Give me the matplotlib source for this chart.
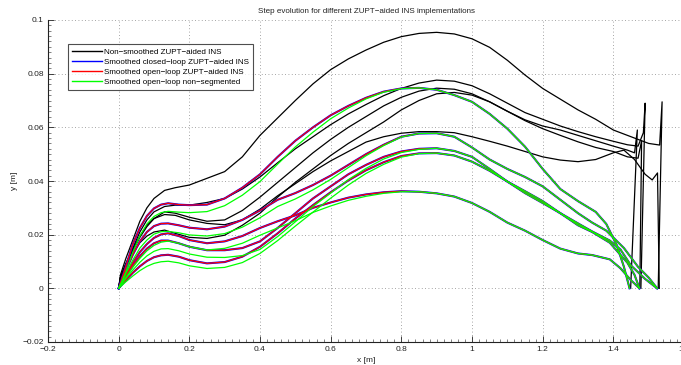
import matplotlib
matplotlib.use("Agg")
import matplotlib.pyplot as plt
from matplotlib.ticker import AutoMinorLocator, FixedLocator, FixedFormatter

plt.rcParams['font.family'] = ['Liberation Sans', 'DejaVu Sans']

# ---- non-smoothed ZUPT-aided INS (black) ----
bx = [0, 0.005, 0.02, 0.04, 0.06, 0.08, 0.1, 0.13, 0.16, 0.2,
      0.25, 0.3, 0.35, 0.4, 0.45, 0.5, 0.55, 0.6, 0.65, 0.7, 0.75, 0.8,
      0.85, 0.9, 0.95, 1.0, 1.05, 1.1, 1.15, 1.2, 1.25, 1.3, 1.35, 1.4]

b1_x = bx + [1.45, 1.5, 1.531, 1.538, 1.527]
b1_y = [0, 0.005, 0.011, 0.018, 0.025, 0.030, 0.0335, 0.0365, 0.0375, 0.0385,
        0.041, 0.0435, 0.049, 0.057, 0.0635, 0.070, 0.0762, 0.0815, 0.0855, 0.0888,
        0.0917, 0.0938, 0.095, 0.0954, 0.0948, 0.093, 0.0898, 0.085, 0.0795, 0.0745,
        0.0705, 0.0665, 0.063, 0.059, 0.0565, 0.054, 0.0534, 0.0695, 0]

b2_x = bx + [1.44, 1.47, 1.485, 1.49, 1.478]
b2_y = [0, 0.004, 0.009, 0.015, 0.021, 0.0255, 0.0285, 0.0305, 0.031, 0.031,
        0.032, 0.0335, 0.037, 0.0415, 0.0468, 0.052, 0.0565, 0.061, 0.065, 0.0685,
        0.0718, 0.0745, 0.0765, 0.0776, 0.0772, 0.0755, 0.0725, 0.069, 0.0655, 0.063,
        0.0605, 0.0584, 0.0565, 0.0548, 0.0535, 0.053, 0.058, 0.069, 0]

b3_x = bx + [1.44, 1.46, 1.468, 1.449]
b3_y = [0, 0.004, 0.009, 0.014, 0.019, 0.023, 0.026, 0.0285, 0.028, 0.0265,
        0.025, 0.0255, 0.029, 0.034, 0.0395, 0.045, 0.0505, 0.0555, 0.06, 0.064,
        0.068, 0.0712, 0.0735, 0.0746, 0.0742, 0.0725, 0.0695, 0.066, 0.0628, 0.0605,
        0.059, 0.057, 0.055, 0.053, 0.0515, 0.0505, 0.059, 0]

b4_x = bx + [1.44, 1.47, 1.48, 1.475]
b4_y = [0, 0.004, 0.008, 0.013, 0.017, 0.0195, 0.021, 0.0217, 0.0205, 0.019,
        0.0186, 0.0198, 0.0235, 0.028, 0.034, 0.0395, 0.0445, 0.0495, 0.054, 0.058,
        0.062, 0.0665, 0.070, 0.0725, 0.073, 0.072, 0.0695, 0.066, 0.0625, 0.0595,
        0.057, 0.0546, 0.0525, 0.051, 0.049, 0.0485, 0.055, 0]

b5_x = bx + [1.43, 1.46, 1.49, 1.51, 1.525, 1.53]
b5_y = [0, 0.004, 0.009, 0.0145, 0.0195, 0.0235, 0.026, 0.0275, 0.0272, 0.0255,
        0.0242, 0.0237, 0.0255, 0.0295, 0.0345, 0.039, 0.0435, 0.0475, 0.051, 0.0545,
        0.0565, 0.0578, 0.0584, 0.0584, 0.058, 0.0565, 0.0548, 0.053, 0.051, 0.049,
        0.0478, 0.0472, 0.048, 0.0505, 0.0515, 0.048, 0.0425, 0.0404, 0.043, 0]

# ---- smoothed steps (blue / red share a track, green = non-segmented) ----
sx = [0, 0.01, 0.02, 0.04, 0.06, 0.08, 0.1, 0.12, 0.14, 0.17, 0.2, 0.25, 0.3,
      0.35, 0.4, 0.45, 0.5, 0.55, 0.6, 0.65, 0.7, 0.75, 0.8, 0.85, 0.9, 0.95,
      1.0, 1.05, 1.1, 1.15, 1.2, 1.25, 1.3]

s1_x = sx + [1.35, 1.38, 1.41, 1.43, 1.446]
s1_y = [0, 0.004, 0.008, 0.0165, 0.0225, 0.027, 0.0298, 0.0312, 0.0317, 0.0312,
        0.031, 0.0312, 0.0335, 0.0375, 0.0425, 0.049, 0.055, 0.06, 0.0645, 0.068,
        0.071, 0.0733, 0.0745, 0.0747, 0.074, 0.072, 0.0695, 0.065, 0.0595, 0.0528,
        0.0445, 0.037, 0.0325, 0.0285, 0.024, 0.016, 0.008, 0]
s1_g = [0, 0.003, 0.006, 0.0135, 0.0195, 0.024, 0.0268, 0.0282, 0.0287, 0.0284,
        0.0282, 0.0286, 0.0308, 0.0347, 0.0398, 0.0463, 0.0527, 0.0582, 0.0632, 0.0672,
        0.0706, 0.0731, 0.0744, 0.0747, 0.074, 0.072, 0.0695, 0.065, 0.0595, 0.0528,
        0.0445, 0.037, 0.0325, 0.0285, 0.024, 0.016, 0.008, 0]

s2_x = sx + [1.34, 1.38, 1.43, 1.47, 1.5, 1.524]
s2_y = [0, 0.003, 0.0065, 0.0125, 0.0175, 0.021, 0.0232, 0.0241, 0.0242, 0.0235,
        0.0226, 0.022, 0.023, 0.0255, 0.029, 0.033, 0.0355, 0.0385, 0.042, 0.046,
        0.05, 0.0535, 0.0565, 0.0577, 0.0578, 0.0565, 0.0525, 0.048, 0.0445, 0.0415,
        0.038, 0.033, 0.028, 0.0245, 0.0215, 0.015, 0.008, 0.004, 0]
s2_g = [0, 0.0025, 0.0055, 0.0105, 0.015, 0.018, 0.0202, 0.0211, 0.0212, 0.0207,
        0.0199, 0.0195, 0.0204, 0.0228, 0.0263, 0.0305, 0.0333, 0.0367, 0.0406, 0.045,
        0.0494, 0.0532, 0.0564, 0.0577, 0.0578, 0.0565, 0.0525, 0.048, 0.0445, 0.0415,
        0.038, 0.033, 0.028, 0.0245, 0.0215, 0.015, 0.008, 0.004, 0]

s3_x = sx + [1.34, 1.39, 1.42, 1.45, 1.474]
s3_y = [0, 0.0025, 0.005, 0.0095, 0.0135, 0.0165, 0.0188, 0.0201, 0.0205, 0.0195,
        0.018, 0.0168, 0.0175, 0.0195, 0.0225, 0.025, 0.0272, 0.030, 0.032, 0.0338,
        0.035, 0.0358, 0.0362, 0.036, 0.0354, 0.0342, 0.0318, 0.0285, 0.0245, 0.0215,
        0.018, 0.0148, 0.013, 0.0124, 0.0108, 0.0075, 0.003, 0]
s3_g = [0, 0.002, 0.004, 0.0078, 0.0112, 0.014, 0.016, 0.0172, 0.0176, 0.0168,
        0.0155, 0.0143, 0.0149, 0.0168, 0.0198, 0.0225, 0.0252, 0.0283, 0.0307, 0.0328,
        0.0343, 0.0354, 0.036, 0.036, 0.0354, 0.0342, 0.0318, 0.0285, 0.0245, 0.0215,
        0.018, 0.0148, 0.013, 0.0124, 0.0108, 0.0075, 0.003, 0]

s4_x = sx + [1.34, 1.39, 1.44, 1.46, 1.474]
s4_y = [0, 0.0022, 0.0045, 0.0085, 0.012, 0.0148, 0.0168, 0.0178, 0.0178, 0.0168,
        0.0155, 0.0142, 0.0142, 0.015, 0.0175, 0.0225, 0.028, 0.0335, 0.038, 0.0425,
        0.046, 0.049, 0.051, 0.052, 0.0522, 0.0512, 0.049, 0.0445, 0.0398, 0.0362,
        0.0325, 0.028, 0.0235, 0.021, 0.017, 0.0095, 0.005, 0]
s4_g = [0, 0.0018, 0.0036, 0.0068, 0.0097, 0.0121, 0.0138, 0.0147, 0.0148, 0.014,
        0.0128, 0.0116, 0.0115, 0.0122, 0.0145, 0.0193, 0.0248, 0.0305, 0.0355, 0.0405,
        0.0447, 0.0482, 0.0506, 0.0518, 0.0522, 0.0512, 0.049, 0.0445, 0.0398, 0.0362,
        0.0325, 0.028, 0.0235, 0.021, 0.017, 0.0095, 0.005, 0]

s5_x = sx + [1.34, 1.39, 1.42, 1.45, 1.49, 1.524]
s5_y = [0, 0.0015, 0.003, 0.0058, 0.0082, 0.0102, 0.0116, 0.0123, 0.0125, 0.0118,
        0.0105, 0.0093, 0.0098, 0.0118, 0.0155, 0.0205, 0.026, 0.031, 0.0358, 0.0402,
        0.044, 0.047, 0.0493, 0.0503, 0.0504, 0.0495, 0.0472, 0.0438, 0.0398, 0.0355,
        0.0318, 0.028, 0.0242, 0.0212, 0.0178, 0.0145, 0.0085, 0.0035, 0]
s5_g = [0, 0.0012, 0.0024, 0.0046, 0.0066, 0.0082, 0.0093, 0.0099, 0.0101, 0.0095,
        0.0084, 0.0074, 0.0078, 0.0096, 0.013, 0.0178, 0.0232, 0.0284, 0.0336, 0.0385,
        0.0428, 0.0462, 0.0489, 0.0502, 0.0504, 0.0495, 0.0472, 0.0438, 0.0398, 0.0355,
        0.0318, 0.028, 0.0242, 0.0212, 0.0178, 0.0145, 0.0085, 0.0035, 0]

labels = ['Non\u2212smoothed ZUPT\u2212aided INS',
          'Smoothed closed\u2212loop ZUPT\u2212aided INS',
          'Smoothed open\u2212loop ZUPT\u2212aided INS',
          'Smoothed open\u2212loop non\u2212segmented']

xticks = [-0.2, 0, 0.2, 0.4, 0.6, 0.8, 1.0, 1.2, 1.4, 1.6]
xtick_labels = ['\u22120.2', '0', '0.2', '0.4', '0.6', '0.8', '1', '1.2', '1.4', '1.6']
yticks = [-0.02, 0, 0.02, 0.04, 0.06, 0.08, 0.1]
ytick_labels = ['\u22120.02', '0', '0.02', '0.04', '0.06', '0.08', '0.1']

black = [(b1_x, b1_y), (b2_x, b2_y), (b3_x, b3_y), (b4_x, b4_y), (b5_x, b5_y)]
smooth = [(s1_x, s1_y, s1_g), (s2_x, s2_y, s2_g), (s3_x, s3_y, s3_g),
          (s4_x, s4_y, s4_g), (s5_x, s5_y, s5_g)]

fig = plt.figure(figsize=(6.81, 3.65), dpi=100)
ax = fig.add_axes([48 / 681, 23 / 365, 636 / 681, 322 / 365])

for i, (x, y) in enumerate(black):
    ax.plot(x, y, color='k', lw=0.9, label=labels[0] if i == 0 else None)
for i, (x, y, g) in enumerate(smooth):
    ax.plot(x, y, color='#0000ff', lw=1.5, label=labels[1] if i == 0 else None)
for i, (x, y, g) in enumerate(smooth):
    ax.plot(x, y, color='#ff0000', lw=0.9, label=labels[2] if i == 0 else None)
for i, (x, y, g) in enumerate(smooth):
    ax.plot(x, g, color='#00ff00', lw=0.9, label=labels[3] if i == 0 else None)

ax.set_xlim(-0.2, 1.6)
ax.set_ylim(-0.02, 0.1)
ax.xaxis.set_major_locator(FixedLocator(xticks))
ax.xaxis.set_major_formatter(FixedFormatter(xtick_labels))
ax.yaxis.set_major_locator(FixedLocator(yticks))
ax.yaxis.set_major_formatter(FixedFormatter(ytick_labels))
ax.xaxis.set_minor_locator(AutoMinorLocator(10))
ax.yaxis.set_minor_locator(AutoMinorLocator(10))
ax.tick_params(which='major', direction='in', length=4, width=0.6,
               labelsize=6, colors='#222222', pad=3)
ax.tick_params(which='minor', direction='in', length=2, width=0.4, colors='#222222')

for s in ['top', 'right']:
    ax.spines[s].set_visible(False)
for s in ['left', 'bottom']:
    ax.spines[s].set_linewidth(0.8)
    ax.spines[s].set_color('#222222')

ax.grid(True, which='major', linestyle=(0, (1, 3)), color='#888888', lw=0.6)
ax.set_axisbelow(True)

ax.set_title('Step evolution for different ZUPT\u2212aided INS implementations',
             fontsize=5.8, color='#222222', pad=5)
ax.set_xlabel('x [m]', fontsize=6, color='#222222', labelpad=3)
ax.set_ylabel('y [m]', fontsize=6, color='#222222', labelpad=3)

leg = ax.legend(loc='upper left', bbox_to_anchor=(0.031, 0.925), borderaxespad=0,
                fontsize=5.8, frameon=True, fancybox=False, handlelength=3.7,
                handletextpad=0.35, labelspacing=0.3, borderpad=0.5)
leg.get_frame().set_edgecolor('#222222')
leg.get_frame().set_linewidth(0.8)
for h in leg.get_lines():
    h.set_linewidth(1.0)

fig.savefig('out.png', dpi=100)
